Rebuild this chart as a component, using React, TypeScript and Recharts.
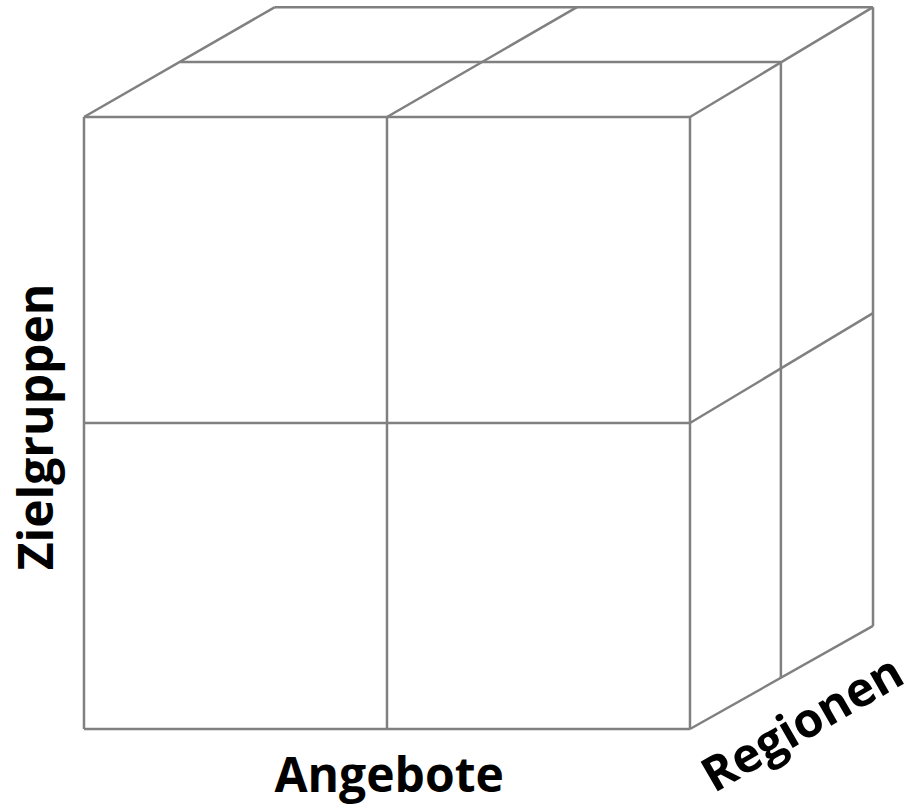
import { ComposedChart, XAxis, YAxis, ReferenceLine, ReferenceDot } from 'recharts';

// cube edges in chart units (front cell = 1 unit)
type Pt = { x: number; y: number };

const frontVerticals: Pt[][] = [
  [{ x: 0, y: 0 }, { x: 0, y: 2 }],
  [{ x: 1, y: 0 }, { x: 1, y: 2 }],
  [{ x: 2, y: 0 }, { x: 2, y: 2 }],
];

const frontHorizontals: Pt[][] = [
  [{ x: 0, y: 0 }, { x: 2, y: 0 }],
  [{ x: 0, y: 1 }, { x: 2, y: 1 }],
  [{ x: 0, y: 2 }, { x: 2, y: 2 }],
];

const topEdges: Pt[][] = [
  [{ x: 0, y: 2 }, { x: 0.63, y: 2.359 }],
  [{ x: 1, y: 2 }, { x: 1.627, y: 2.359 }],
  [{ x: 2, y: 2 }, { x: 2.604, y: 2.359 }],
  [{ x: 0.317, y: 2.18 }, { x: 2.3, y: 2.18 }],
  [{ x: 0.63, y: 2.359 }, { x: 2.604, y: 2.359 }],
];

const sideEdges: Pt[][] = [
  [{ x: 2, y: 1 }, { x: 2.604, y: 1.359 }],
  [{ x: 2, y: 0 }, { x: 2.604, y: 0.337 }],
  [{ x: 2.3, y: 0.167 }, { x: 2.3, y: 2.18 }],
  [{ x: 2.604, y: 0.337 }, { x: 2.604, y: 2.359 }],
];

const labels = [
  { text: 'Angebote', x: 1.007, y: -0.15, angle: 0 },
  { text: 'Zielgruppen', x: -0.158, y: 0.987, angle: -90 },
  { text: 'Regionen', x: 2.37, y: 0.02, angle: -30 },
];

const edges = [...frontVerticals, ...frontHorizontals, ...topEdges, ...sideEdges];

export default function App() {
  return (
    <div style={{ position: 'absolute', left: 0, top: 0, background: '#fff' }}>
      <ComposedChart width={913} height={812} margin={{ top: 0, right: 0, bottom: 0, left: 0 }} data={[]}>
        <XAxis type="number" dataKey="x" domain={[-0.2772, 2.736]} hide allowDataOverflow />
        <YAxis type="number" dataKey="y" domain={[-0.2712, 2.3824]} hide allowDataOverflow />
        {edges.map((seg, i) => (
          <ReferenceLine
            key={i}
            segment={seg}
            stroke="#808080"
            strokeWidth={2.5}
            ifOverflow="visible"
          />
        ))}
        {labels.map((l) => (
          <ReferenceDot
            key={l.text}
            x={l.x}
            y={l.y}
            r={0}
            stroke="none"
            ifOverflow="visible"
            label={{
              value: l.text,
              position: 'center',
              angle: l.angle,
              fontSize: 48,
              fontWeight: 700,
              fill: '#000',
              fontFamily: '"Open Sans", sans-serif',
            }}
          />
        ))}
      </ComposedChart>
    </div>
  );
}
